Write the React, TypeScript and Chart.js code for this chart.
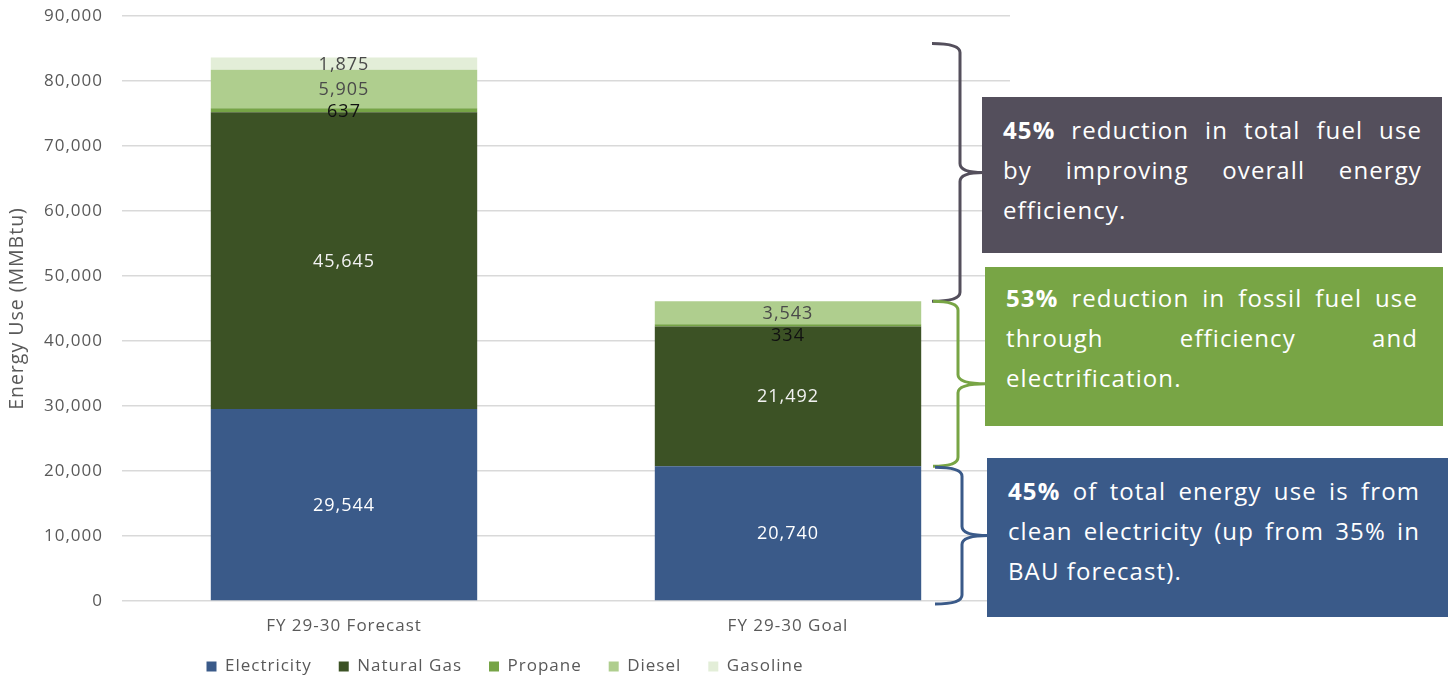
import React, { useEffect, useRef } from "react";
import { Chart, registerables } from "chart.js";

Chart.register(...registerables);

// ---------- data ----------
const categories = ["FY 29-30 Forecast", "FY 29-30 Goal"];
const seriesNames = ["Electricity", "Natural Gas", "Propane", "Diesel", "Gasoline"];
const electricity = [29544, 20740];
const naturalGas = [45645, 21492];
const propane = [637, 334];
const diesel = [5905, 3543];
const gasoline = [1875, 0];
const yMin = 0;
const yMax = 90000;
const yStep = 10000;
const yTitle = "Energy Use (MMBtu)";

const box1Bold = "45%";
const box1Lines = [" reduction in total fuel use", "by improving overall energy", "efficiency."];
const box2Bold = "53%";
const box2Lines = [" reduction in fossil fuel use", "through efficiency and", "electrification."];
const box3Bold = "45%";
const box3Lines = [" of total energy use is from", "clean electricity (up from 35% in", "BAU forecast)."];

// ---------- styles ----------
const FONT = "'Open Sans', 'DejaVu Sans', sans-serif";
const seriesColors = ["#3A5A89", "#3C5225", "#76A446", "#AFCE8E", "#E3EED8"];
const labelColors = ["#FFFFFF", "#F2F2F2", "#111111", "#4A4A4A", "#4A4A4A"];
const axisTextColor = "#595959";
const gridColor = "#D9D9D9";
const grayBox = "#544F5C";
const greenBox = "#78A545";
const blueBox = "#3A5A89";

const seriesValues = [electricity, naturalGas, propane, diesel, gasoline];

const fmt = (v: number) => v.toLocaleString("en-US");

const valueLabelPlugin = {
  id: "valueLabels",
  afterDatasetsDraw(chart: any) {
    const ctx = chart.ctx;
    ctx.save();
    ctx.font = `18px ${FONT}`;
    ctx.letterSpacing = "1px";
    ctx.textAlign = "center";
    ctx.textBaseline = "middle";
    const nCat = chart.data.labels.length;
    const nDs = chart.data.datasets.length;
    for (let i = 0; i < nCat; i++) {
      let prevY = -Infinity;
      for (let di = nDs - 1; di >= 0; di--) {
        const ds = chart.data.datasets[di];
        const v = ds.data[i];
        if (!v) continue;
        const bar: any = chart.getDatasetMeta(di).data[i];
        let yy = (bar.y + bar.base) / 2 + 1;
        if (yy - prevY < 22) yy = prevY + 22;
        prevY = yy;
        ctx.fillStyle = labelColors[di];
        ctx.fillText(fmt(v), bar.x, yy);
      }
    }
    ctx.restore();
  },
};

function drawBrace(ctx: any, xL: number, xM: number, xT: number, yT: number, yB: number, color: string) {
  const r = 9;
  const yC = (yT + yB) / 2;
  ctx.save();
  ctx.strokeStyle = color;
  ctx.lineWidth = 3;
  ctx.lineJoin = "round";
  ctx.lineCap = "butt";
  ctx.beginPath();
  ctx.moveTo(xL, yT);
  ctx.quadraticCurveTo(xM, yT, xM, yT + r);
  ctx.lineTo(xM, yC - r);
  ctx.quadraticCurveTo(xM, yC, xT, yC);
  ctx.quadraticCurveTo(xM, yC, xM, yC + r);
  ctx.lineTo(xM, yB - r);
  ctx.quadraticCurveTo(xM, yB, xL, yB);
  ctx.stroke();
  ctx.restore();
}

const bracePlugin = {
  id: "braces",
  afterDraw(chart: any) {
    const y = chart.scales.y;
    const ctx = chart.ctx;
    const forecastTotal = seriesValues.reduce((s, a) => s + a[0], 0);
    const goalTotal = seriesValues.reduce((s, a) => s + a[1], 0);
    const goalElec = electricity[1];
    const r = chart.chartArea.right;
    drawBrace(ctx, r - 78, r - 50, r - 27, y.getPixelForValue(forecastTotal) - 14, y.getPixelForValue(goalTotal), grayBox);
    drawBrace(ctx, r - 77, r - 52, r - 24, y.getPixelForValue(goalTotal), y.getPixelForValue(goalElec), greenBox);
    drawBrace(ctx, r - 75, r - 48, r - 22, y.getPixelForValue(goalElec) + 1, y.getPixelForValue(yMin) + 3, blueBox);
  },
};

const spacingPlugin = {
  id: "spacing",
  beforeLayout(chart: any) {
    chart.ctx.letterSpacing = "1px";
  },
  beforeDraw(chart: any) {
    chart.ctx.letterSpacing = "1px";
  },
};

function TextBox(props: { bg: string; left: number; top: number; width: number; height: number; padL: number; padR: number; padT: number; bold: string; lines: string[] }) {
  const { bg, left, top, width, height, padL, padR, padT, bold, lines } = props;
  return (
    <div
      style={{
        position: "absolute",
        left,
        top,
        width,
        height,
        boxSizing: "border-box",
        background: bg,
        color: "#FFFFFF",
        paddingLeft: padL,
        paddingRight: padR,
        paddingTop: padT,
        fontFamily: FONT,
        fontSize: 24,
        letterSpacing: "1.1px",
        lineHeight: "40px",
      }}
    >
      {lines.map((ln, i) => (
        <div
          key={i}
          style={{
            textAlign: "justify",
            textAlignLast: i < lines.length - 1 ? "justify" : "left",
            whiteSpace: "nowrap",
          }}
        >
          {i === 0 ? <b>{bold}</b> : null}
          {ln}
        </div>
      ))}
    </div>
  );
}

export default function App() {
  const canvasRef = useRef<HTMLCanvasElement | null>(null);

  useEffect(() => {
    const canvas = canvasRef.current;
    if (!canvas) return;
    const chart = new Chart(canvas, {
      type: "bar",
      data: {
        labels: categories,
        datasets: seriesNames.map((name, i) => ({
          label: name,
          data: seriesValues[i],
          backgroundColor: seriesColors[i],
          borderWidth: 0,
          barPercentage: 0.6,
          categoryPercentage: 1.0,
        })),
      },
      options: {
        animation: false,
        responsive: true,
        maintainAspectRatio: false,
        layout: { padding: { top: 16, right: 10, bottom: -6, left: 0 } },
        plugins: {
          legend: {
            position: "bottom",
            labels: {
              boxWidth: 10,
              boxHeight: 10,
              padding: 27,
              color: axisTextColor,
              font: { family: FONT, size: 17 },
            },
          },
          tooltip: { enabled: false },
        },
        scales: {
          x: {
            stacked: true,
            grid: { display: false },
            border: { display: false },
            ticks: { color: axisTextColor, font: { family: FONT, size: 17 }, padding: 7 },
            afterFit: (s: any) => {
              s.height = 30;
              s.paddingLeft = 0;
              s.paddingRight = 0;
            },
          },
          y: {
            stacked: true,
            min: yMin,
            max: yMax,
            ticks: {
              stepSize: yStep,
              color: axisTextColor,
              font: { family: FONT, size: 17 },
              padding: 19,
              callback: (v: any) => fmt(Number(v)),
            },
            grid: { color: gridColor, lineWidth: 1.5, drawTicks: false },
            border: { display: false },
            title: {
              display: true,
              text: yTitle,
              color: axisTextColor,
              font: { family: FONT, size: 19.5 },
              padding: { top: 6, bottom: 0 },
            },
            afterFit: (s: any) => {
              s.width = 122;
              s.paddingTop = 0;
              s.paddingBottom = 0;
            },
          },
        },
      },
      plugins: [spacingPlugin, valueLabelPlugin, bracePlugin],
    } as any);
    return () => chart.destroy();
  }, []);

  return (
    <div style={{ position: "fixed", left: 0, top: 0, width: 1448, height: 679, background: "#FFFFFF", overflow: "hidden" }}>
      <div style={{ position: "absolute", left: 0, top: 0, width: 1020, height: 679 }}>
        <canvas ref={canvasRef} />
      </div>
      <TextBox bg={grayBox} left={982} top={97} width={460} height={156} padL={21} padR={20} padT={13} bold={box1Bold} lines={box1Lines} />
      <TextBox bg={greenBox} left={985} top={267} width={458} height={159} padL={21} padR={25} padT={11} bold={box2Bold} lines={box2Lines} />
      <TextBox bg={blueBox} left={987} top={458} width={461} height={159} padL={21} padR={28} padT={13} bold={box3Bold} lines={box3Lines} />
    </div>
  );
}
